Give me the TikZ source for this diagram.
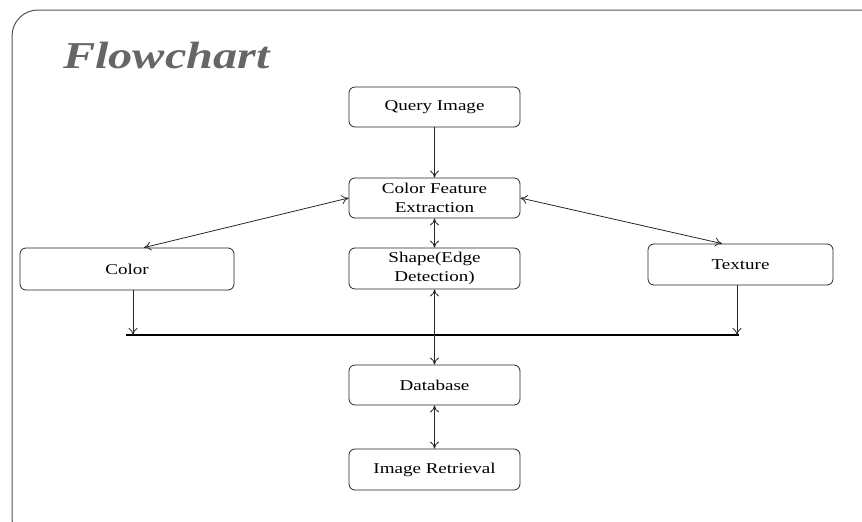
\documentclass[tikz,border=0pt]{standalone}
\usepackage{fontspec}
\setmainfont{Liberation Serif}
\newfontfamily\widefont[FakeStretch=1.27]{Liberation Serif}
\usetikzlibrary{arrows.meta}
\definecolor{titlegray}{HTML}{666666}
\definecolor{framegray}{HTML}{555555}
\tikzset{
  box/.style={draw=black!85, line width=0.8pt, rounded corners=6pt, align=center, font=\widefont\fontsize{15}{19}\selectfont, inner sep=0pt},
  conn/.style={draw=black!85, line width=0.8pt, -{To[length=7pt,width=9pt]}},
  dconn/.style={draw=black!85, line width=0.8pt, {To[length=7pt,width=9pt]}-{To[length=7pt,width=9pt]}},
}
\begin{document}
\begin{tikzpicture}[x=1pt,y=-1pt]
\useasboundingbox (0,0) rectangle (862,522);
\draw[framegray, line width=1pt, rounded corners=26pt] (12,10) rectangle (890,545);
\node[font=\widefont\fontsize{38}{42}\selectfont\bfseries\itshape, text=titlegray, anchor=base west, inner sep=0pt] (title) at (63,68) {Flowchart};

\node[box, minimum width=171pt, minimum height=40pt] (q) at (434.5,107) {Query Image};
\node[box, minimum width=171pt, minimum height=40pt] (cfe) at (434.5,198) {Color Feature\\Extraction};
\node[box, minimum width=171pt, minimum height=41pt] (sh) at (434.5,268.5) {Shape(Edge\\Detection)};
\node[box, minimum width=214pt, minimum height=42pt] (col) at (127,269) {Color};
\node[box, minimum width=185pt, minimum height=41pt] (tex) at (740.5,264.5) {Texture};
\node[box, minimum width=171pt, minimum height=40pt] (db) at (434.5,385) {Database};
\node[box, minimum width=171pt, minimum height=41pt] (ir) at (434.5,469.5) {Image Retrieval};

\coordinate (la) at (126,335);
\coordinate (lb) at (739,335);
\draw[black, line width=2pt] (la) -- (lb);

\draw[conn] (q) -- (cfe);
\draw[dconn] (cfe) -- (sh);
\draw[dconn] (sh) -- (db);
\draw[dconn] (db) -- (ir);
\draw[dconn] (cfe.west) -- (col.north -| 144,0);
\draw[dconn] (cfe.east) -- (tex.north -| 722,0);
\draw[conn] (col.south -| 133,0) -- (133,335);
\draw[conn] (tex.south -| 737,0) -- (737,335);
\end{tikzpicture}
\end{document}
